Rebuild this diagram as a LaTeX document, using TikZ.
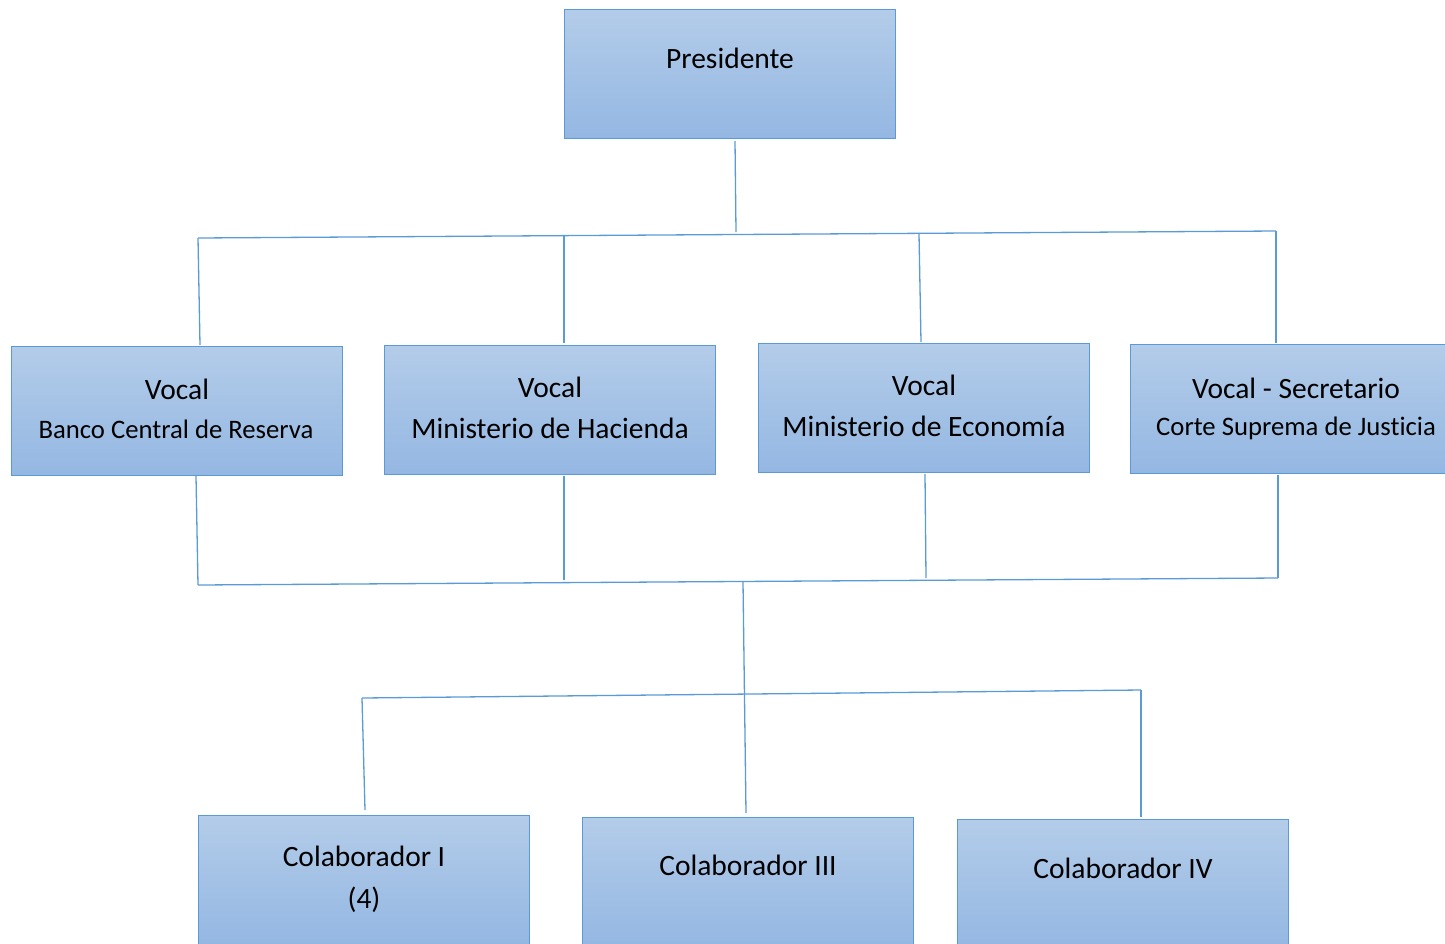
\documentclass[tikz,border=0pt]{standalone}
\usepackage{fontspec}
\setmainfont{Carlito}[Ligatures=NoCommon]
\definecolor{boxtop}{HTML}{B3CCE9}
\definecolor{boxbot}{HTML}{94B7E2}
\definecolor{edge}{HTML}{5B9BD5}
\begin{document}
\begin{tikzpicture}[x=1pt,y=-1pt,
  box/.style={draw=edge, line width=1.3pt, top color=boxtop, bottom color=boxbot,
    minimum width=331pt, minimum height=129pt, anchor=north west, inner sep=0pt},
  conn/.style={draw=edge, line width=1.3pt},
  big/.style={font=\fontsize{29.5}{34}\selectfont, inner sep=0pt},
  small/.style={font=\fontsize{26.7}{31}\selectfont, inner sep=0pt}]
\useasboundingbox (0,0) rectangle (1445,943);
\clip (0,0) rectangle (1445,943);
% boxes
\node[box] (pres) at (564,9) {};
\node[box] (bcr) at (11,346) {};
\node[box] (mh) at (384,345) {};
\node[box] (me) at (758,343) {};
\node[box] (csj) at (1130,344) {};
\node[box] (c1) at (198,815) {};
\node[box] (c3) at (582,817) {};
\node[box] (c4) at (957,819) {};
% texts
\node[big] (presT) at (730,58) {Presidente};
\node[big] (bcrT1) at (177,389) {Vocal};
\node[small] (bcrT2) at (176,429) {Banco Central de Reserva};
\node[big] (mhT1) at (550,387) {Vocal};
\node[big] (mhT2) at (550,428) {Ministerio de Hacienda};
\node[big] (meT1) at (924,385) {Vocal};
\node[big] (meT2) at (924,426) {Ministerio de Economía};
\node[big] (csjT1) at (1296,388) {Vocal - Secretario};
\node[small] (csjT2) at (1296,428) {Corte Suprema de Justicia};
\node[big] (c1T1) at (364,856) {Colaborador I};
\node[big] (c1T2) at (364,900) {(4)};
\node[big] (c3T) at (748,865) {Colaborador III};
\node[big] (c4T) at (1123,868) {Colaborador IV};
% junction coordinates
\coordinate (p0) at (735,141);
\coordinate (p1) at (736,232);
\coordinate (hA) at (198,238);
\coordinate (hB) at (564,236);
\coordinate (hC) at (919,234);
\coordinate (hD) at (1276,231);
\coordinate (tA) at (200,345);
\coordinate (tB) at (564,343);
\coordinate (tC) at (921,342);
\coordinate (tD) at (1276,343);
\coordinate (bA) at (196,476);
\coordinate (bB) at (564,476);
\coordinate (bC) at (925,474);
\coordinate (bD) at (1278,475);
\coordinate (lA) at (198,585);
\coordinate (lB) at (564,580);
\coordinate (lC) at (926,578);
\coordinate (lD) at (1278,578);
\coordinate (m0) at (743,582);
\coordinate (m1) at (746,813);
\coordinate (kA) at (362,698);
\coordinate (kB) at (1141,690);
\coordinate (kA2) at (365,810);
\coordinate (kB2) at (1141,817);
% connectors
\draw[conn] (p0) -- (p1);
\draw[conn] (hA) -- (hD);
\draw[conn] (hA) -- (tA);
\draw[conn] (hB) -- (tB);
\draw[conn] (hC) -- (tC);
\draw[conn] (hD) -- (tD);
\draw[conn] (bA) -- (lA);
\draw[conn] (bB) -- (lB);
\draw[conn] (bC) -- (lC);
\draw[conn] (bD) -- (lD);
\draw[conn] (lA) -- (lD);
\draw[conn] (m0) -- (m1);
\draw[conn] (kA) -- (kB);
\draw[conn] (kA) -- (kA2);
\draw[conn] (kB) -- (kB2);
\end{tikzpicture}
\end{document}
